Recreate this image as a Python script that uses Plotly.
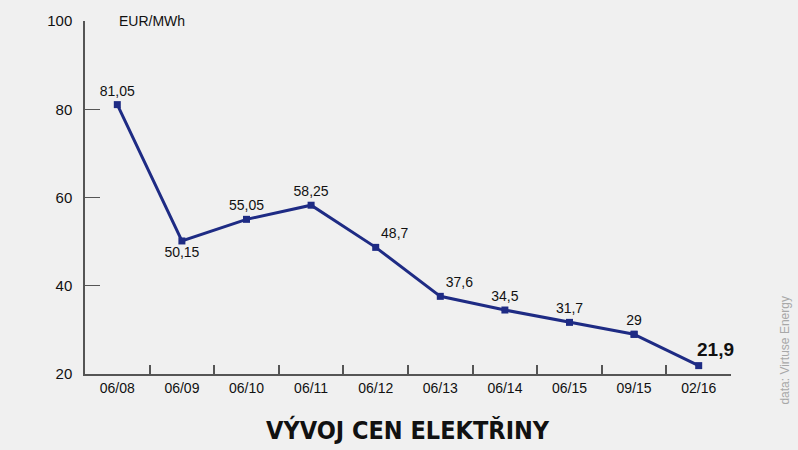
import plotly.graph_objects as go

# %%
periods = ["06/08", "06/09", "06/10", "06/11", "06/12", "06/13", "06/14", "06/15", "09/15", "02/16"]
prices = [81.05, 50.15, 55.05, 58.25, 48.7, 37.6, 34.5, 31.7, 29, 21.9]
price_labels = ["81,05", "50,15", "55,05", "58,25", "48,7", "37,6", "34,5", "31,7", "29", "21,9"]
label_pos = ["top center", "bottom center", "top center", "top center", "top right",
             "top right", "top center", "top center", "top center", "top right"]

navy = "#1e2b84"
axis_gray = "#555555"

# %%
fig = go.Figure(
    layout=go.Layout(
        width=798,
        height=450,
        paper_bgcolor="#f0f0f0",
        plot_bgcolor="rgba(0,0,0,0)",
        margin=dict(l=85, r=67, t=15, b=76),
        showlegend=False,
        font=dict(family="Liberation Sans, Arial, sans-serif", color="#111111"),
    )
)

fig.add_trace(
    go.Scatter(
        x=periods[:-1],
        y=prices[:-1],
        mode="lines+markers+text",
        text=price_labels[:-1],
        textposition=label_pos[:-1],
        textfont=dict(size=14, color="#111111"),
        line=dict(color=navy, width=3),
        marker=dict(symbol="square", size=7, color=navy),
        cliponaxis=False,
    )
)
# last segment + highlighted value
fig.add_trace(
    go.Scatter(
        x=periods[-2:],
        y=prices[-2:],
        mode="lines+markers",
        line=dict(color=navy, width=3),
        marker=dict(symbol="square", size=7, color=navy),
        cliponaxis=False,
    )
)
fig.add_annotation(
    x=periods[-1], y=prices[-1], text="<b>" + price_labels[-1] + "</b>",
    showarrow=False, xanchor="left", yanchor="bottom", xshift=-4, yshift=4,
    font=dict(size=19, color="#111111"),
)

fig.update_xaxes(
    type="category",
    range=[-0.5, len(periods) - 0.5],
    showline=True, linecolor=axis_gray, linewidth=1.5,
    ticks="inside", tickson="boundaries", ticklen=9, tickcolor=axis_gray, tickwidth=1.5,
    tickfont=dict(size=14, color="#111111"),
    showgrid=False, zeroline=False,
)
fig.update_yaxes(
    range=[20, 100],
    tickvals=[20, 40, 60, 80, 100],
    showline=True, linecolor=axis_gray, linewidth=1.5,
    ticks="inside", ticklen=15, tickcolor=axis_gray, tickwidth=1,
    ticklabelstandoff=8,
    tickfont=dict(size=15, color="#111111"),
    showgrid=False, zeroline=False,
)

fig.add_annotation(
    x=0.05, y=1.0, xref="paper", yref="paper", text="EUR/MWh",
    showarrow=False, xanchor="left", yanchor="middle",
    font=dict(size=14, color="#111111"),
)
fig.add_annotation(
    x=0.5, y=-0.158, xref="paper", yref="paper", xanchor="center", yanchor="middle",
    text="<b>VÝVOJ CEN ELEKTŘINY</b>", showarrow=False,
    font=dict(family="Liberation Sans Narrow, DejaVu Sans Condensed, sans-serif", size=25, color="#111111"),
)
fig.add_annotation(
    x=1.084, y=0.067, xref="paper", yref="paper", xanchor="center", yanchor="middle",
    text="data: Virtuse Energy", textangle=-90, showarrow=False,
    font=dict(size=12, color="#a8a8a8"),
)

fig.write_html("out.html", config={"displayModeBar": False},
               post_script="document.body.style.margin='0';")
